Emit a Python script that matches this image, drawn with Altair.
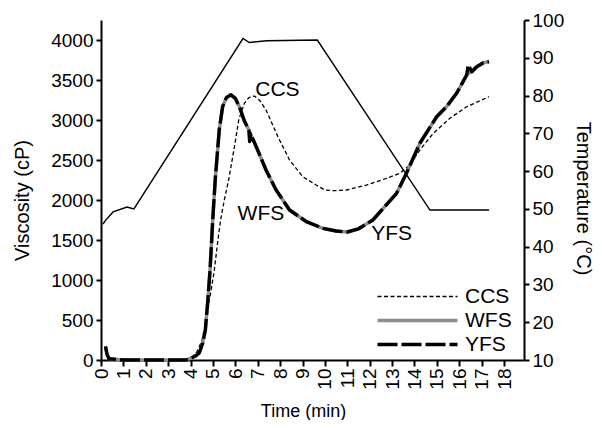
import altair as alt
import pandas as pd

FONT = "Liberation Sans"

series_names = ["CCS", "WFS", "YFS"]
series_colors = ["#000000", "#8c8c8c", "#000000"]
series_dash = [[4, 2.5], [1, 0], [20, 4]]
series_width = [1.3, 3.4, 3.4]

ccs_t = [0.3, 1.0, 2.0, 3.0, 3.9, 4.1, 4.3, 4.5, 4.69, 4.9, 5.05, 5.2, 5.34, 5.5, 5.7, 5.96, 6.15, 6.4, 6.6,
         6.85, 7.1, 7.37, 7.9, 8.42, 9.01, 9.61, 9.99, 10.36, 10.96, 11.85, 12.75, 13.35, 13.79, 14.24,
         14.84, 15.58, 16.33, 17.33]
ccs_v = [0, 0, 0, 0, 5, 40, 110, 240, 480, 850, 1100, 1450, 1750, 1990, 2250, 2667, 3000, 3208, 3280,
         3300, 3240, 3125, 2791, 2500, 2291, 2187, 2125, 2116, 2125, 2187, 2271, 2334, 2437, 2625,
         2834, 3021, 3166, 3291]

wfs_t = [0.2, 0.27, 0.36, 1.0, 2.0, 3.0, 3.8, 3.94, 4.1, 4.25, 4.39, 4.54, 4.66, 4.76, 4.87, 4.99, 5.1,
         5.28, 5.43, 5.6, 5.8, 6.0, 6.18, 6.4, 6.6, 6.93, 7.37, 7.82, 8.42, 9.17, 9.91, 10.5, 11.0, 11.5,
         12.14, 13.2, 13.64, 14.24, 14.99, 15.43, 15.88, 16.33, 16.78, 17.08, 17.33]
wfs_v = [170, 70, 15, 0, 0, 0, 0, 15, 35, 55, 90, 210, 375, 709, 1125, 1750, 2250,
         2875, 3166, 3280, 3315, 3270, 3166, 2990, 2875, 2667, 2375, 2125, 1875, 1729, 1646, 1612, 1600, 1640,
         1750, 2084, 2334, 2709, 3041, 3166, 3334, 3562, 3666, 3716, 3729]

yfs_t = [0.2, 0.27, 0.36, 1.0, 2.0, 3.0, 3.8, 3.94, 4.1, 4.25, 4.39, 4.54, 4.66, 4.76, 4.87, 4.99, 5.1,
         5.28, 5.43, 5.6, 5.8, 6.0, 6.18, 6.4, 6.6, 6.64, 6.68, 6.93, 7.37, 7.82, 8.42, 9.17, 9.91, 10.5,
         11.0, 11.5, 12.14, 13.2, 13.64, 14.24, 14.99, 15.43, 15.88, 16.33, 16.4, 16.56, 16.78, 17.08, 17.33]
yfs_v = [170, 70, 15, 0, 0, 0, 0, 15, 35, 55, 90, 210, 375, 709, 1125, 1750, 2250,
         2875, 3166, 3280, 3315, 3270, 3166, 2990, 2875, 2730, 2830, 2667, 2375, 2125, 1875, 1729, 1646, 1612,
         1600, 1640, 1750, 2084, 2334, 2709, 3041, 3166, 3334, 3562, 3687, 3604, 3666, 3716, 3729]

temp_t = [0.09, 0.22, 0.54, 1.16, 1.47, 6.34, 6.62, 7.4, 9.66, 14.69, 17.33]
temp_c = [46.0, 47.1, 49.2, 50.5, 50.0, 95.1, 94.05, 94.5, 94.7, 49.7, 49.7]

label_text = ["CCS", "WFS", "YFS"]
label_t = [7.88, 7.14, 12.98]
label_v = [3381, 1827, 1575]

x_ticks = list(range(0, 19))
visc_ticks = list(range(0, 4001, 500))
temp_ticks = list(range(10, 101, 10))

rows = []
for name, ts, vs in [("CCS", ccs_t, ccs_v), ("WFS", wfs_t, wfs_v), ("YFS", yfs_t, yfs_v)]:
    w = series_width[series_names.index(name)]
    for i, (t, v) in enumerate(zip(ts, vs)):
        rows.append({"series": name, "t": t, "v": v, "i": i, "w": w})
visc = pd.DataFrame(rows)
temp = pd.DataFrame({"t": temp_t, "c": temp_c})
labels = pd.DataFrame({"text": label_text, "t": label_t, "v": label_v})

x_scale = alt.Scale(domain=[0, 18.89], nice=False, zero=False)
v_scale = alt.Scale(domain=[0, 4250], nice=False, zero=False)
c_scale = alt.Scale(domain=[10, 100], nice=False, zero=False)

x_axis = alt.Axis(values=x_ticks, labelAngle=270, labelFontSize=19, tickSize=6, labelPadding=2,
                  title="Time (min)", titleFontSize=18, titleX=202, titleY=56,
                  titleAlign="center", titleBaseline="alphabetic", format="d",
                  labelFlush=False, labelOverlap=False, labelSeparation=0)
v_axis = alt.Axis(values=visc_ticks, title="Viscosity (cP)", titleFontSize=20, tickSize=5, format="d",
                  labelFontSize=19, labelPadding=3, titleX=-79, titleY=180, titleAngle=270,
                  titleAlign="center", titleBaseline="middle", labelFlush=False, labelOverlap=False)
c_axis = alt.Axis(values=temp_ticks, orient="right", title="Temperature (°C)", titleFontSize=20,
                  tickSize=5, labelFontSize=19, labelPadding=3, titleX=58, titleY=178, titleAngle=90,
                  titleAlign="center", titleBaseline="middle", labelFlush=False, labelOverlap=False,
                  format="d")

legend = alt.Legend(title=None, orient="none", legendX=306, legendY=266, symbolType="stroke",
                    symbolSize=6400, labelFontSize=21, labelFont=FONT, labelOffset=37, rowPadding=2,
                    padding=0, labelColor="black",
                    symbolStrokeWidth={"expr": "datum.value === 'CCS' ? 1.3 : 3.4"})

visc_lines = alt.Chart(visc).mark_line(interpolate="linear", strokeJoin="round").encode(
    x=alt.X("t:Q", scale=x_scale, axis=x_axis),
    y=alt.Y("v:Q", scale=v_scale, axis=v_axis),
    color=alt.Color("series:N", scale=alt.Scale(domain=series_names, range=series_colors), legend=legend),
    strokeDash=alt.StrokeDash("series:N", scale=alt.Scale(domain=series_names, range=series_dash),
                              legend=legend),
    strokeWidth=alt.StrokeWidth("w:Q", scale=None, legend=None),
    order="i:Q",
)

visc_labels = alt.Chart(labels).mark_text(font=FONT, fontSize=21, align="center", baseline="middle",
                                           color="black").encode(
    x=alt.X("t:Q", scale=x_scale, axis=x_axis),
    y=alt.Y("v:Q", scale=v_scale, axis=v_axis),
    text="text:N",
)

temp_line = alt.Chart(temp).mark_line(color="black", strokeWidth=1.4).encode(
    x=alt.X("t:Q", scale=x_scale, axis=x_axis),
    y=alt.Y("c:Q", scale=c_scale, axis=c_axis),
)

chart = alt.layer(alt.layer(visc_lines, visc_labels), temp_line).resolve_scale(
    y="independent"
).properties(
    width=423, height=340,
    padding={"left": 93, "top": 12, "right": 70, "bottom": 60},
    autosize=alt.AutoSizeParams(type="none"),
).configure_view(stroke=None).configure_axis(
    grid=False, labelFont=FONT, titleFont=FONT, domainColor="black", tickColor="black",
    labelColor="black", titleColor="black", titleFontWeight="normal", domainWidth=2, tickWidth=2,
    labelOverlap=False,
)

chart.save("out.html", embed_options={"renderer": "svg", "actions": False})
